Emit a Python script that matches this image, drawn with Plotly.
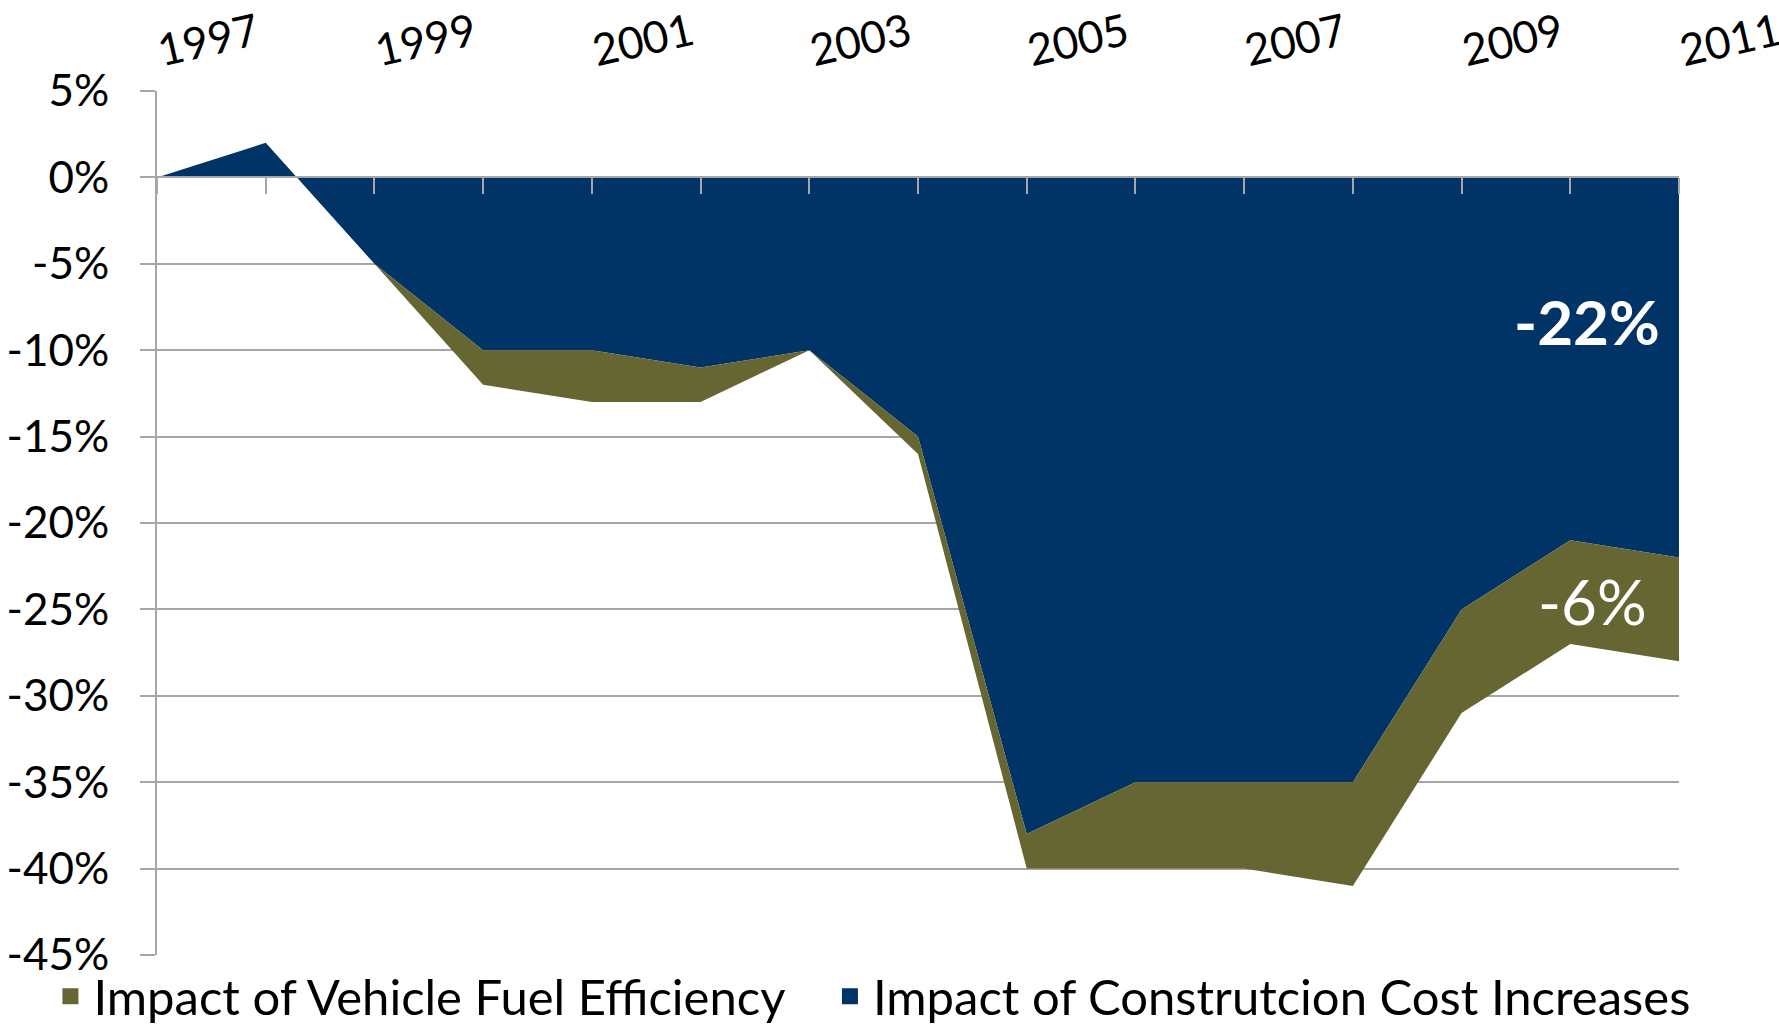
import plotly.graph_objects as go

YEARS = list(range(1997, 2012))
# Impact of construction cost increases (%), top layer from 0
CONSTRUCTION = [0, 2, -5, -10, -10, -11, -10, -15, -38, -35, -35, -35, -25, -21, -22]
# Impact of vehicle fuel efficiency (%), stacked below construction
FUEL = [0, 0, 0, -2, -3, -2, 0, -1, -2, -5, -5, -6, -6, -6, -6]
LABEL_YEARS = [1997, 1999, 2001, 2003, 2005, 2007, 2009, 2011]
Y_TICKS = list(range(-45, 10, 5))

NAVY = "#003366"
OLIVE = "#666633"
GRID = "#A6A6A6"
FONT = "Lato"
PAD = "\u00a0" * 3  # extra spacing between legend entries

fig = go.Figure()
fig.add_trace(go.Scatter(
    x=YEARS, y=CONSTRUCTION, stackgroup="s", mode="none",
    fillcolor=NAVY, name="Impact of Construtcion Cost Increases",
    showlegend=False, hoverinfo="x+y"))
fig.add_trace(go.Scatter(
    x=YEARS, y=FUEL, stackgroup="s", mode="none",
    fillcolor=OLIVE, name="Impact of Vehicle Fuel Efficiency",
    showlegend=False, hoverinfo="x+y"))
# legend entries
fig.add_trace(go.Scatter(
    x=[None], y=[None], mode="markers",
    marker=dict(symbol="square", size=16, color=OLIVE),
    name="Impact of Vehicle Fuel Efficiency" + PAD, legendrank=1))
fig.add_trace(go.Scatter(
    x=[None], y=[None], mode="markers",
    marker=dict(symbol="square", size=16, color=NAVY),
    name="Impact of Construtcion Cost Increases", legendrank=2))
# invisible trace for the top label axis
fig.add_trace(go.Scatter(
    x=YEARS, y=CONSTRUCTION, xaxis="x2", mode="lines",
    line=dict(width=0), opacity=0, showlegend=False, hoverinfo="skip"))

fig.add_annotation(x=2010.15, y=-8.3, text="<b>-22%</b>", showarrow=False,
                   font=dict(family=FONT, size=62, color="white"))
fig.add_annotation(x=2010.2, y=-24.5, text="-6%", showarrow=False,
                   font=dict(family=FONT, size=62, color="white"))

fig.update_layout(
    width=1779, height=1026,
    margin=dict(l=157, r=100, t=91, b=71, autoexpand=False),
    paper_bgcolor="white", plot_bgcolor="white",
    font=dict(family=FONT, color="black"),
    showlegend=True,
    legend=dict(orientation="h", traceorder="normal",
                x=-0.072, y=-0.048, xanchor="left", yanchor="middle",
                font=dict(family=FONT, size=49, color="black"),
                itemsizing="trace", itemwidth=36,
                bgcolor="rgba(0,0,0,0)"),
    xaxis=dict(range=[1997, 2011], tickmode="array", tickvals=YEARS,
               showticklabels=False, ticks="outside", ticklen=16, tickcolor=GRID,
               tickwidth=2, showgrid=False, zeroline=False,
               showline=True, linecolor=GRID, linewidth=2, automargin=False,
               anchor="free", position=0.9, layer="above traces", fixedrange=True),
    xaxis2=dict(range=[1997, 2011], overlaying="x", side="top", anchor="y",
                tickmode="array", tickvals=LABEL_YEARS,
                ticktext=[str(y) for y in LABEL_YEARS], automargin=False,
                tickangle=-13, ticks="", showgrid=False, zeroline=False,
                showline=False, ticklabelstandoff=14, ticklabeloverflow="allow",
                tickfont=dict(family=FONT, size=44, color="black")),
    yaxis=dict(range=[-45, 5], tickmode="array", tickvals=Y_TICKS,
               ticktext=[f"{v}%" for v in Y_TICKS], automargin=False,
               showgrid=True, gridcolor=GRID, gridwidth=2, zeroline=False,
               showline=True, linecolor=GRID, linewidth=2,
               ticks="outside", ticklen=15, tickcolor=GRID, tickwidth=2,
               ticklabelstandoff=22,
               tickfont=dict(family=FONT, size=44, color="black")),
)

fig.write_html("out.html", config={"displayModeBar": False},
               post_script="document.body.style.margin='0';document.body.style.overflow='hidden';")
